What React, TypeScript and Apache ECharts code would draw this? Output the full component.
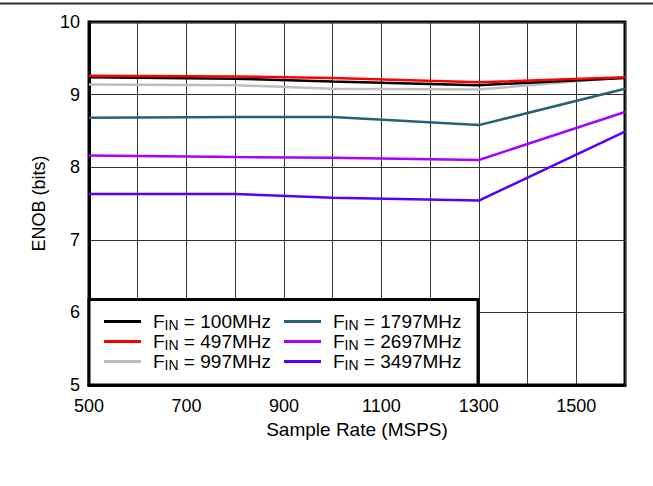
import React, { useEffect, useRef } from "react";
import * as echarts from "echarts";

const sampleRates = [500, 800, 1000, 1300, 1600];
const fin100 = [9.24, 9.22, 9.18, 9.13, 9.23];
const fin497 = [9.26, 9.25, 9.23, 9.17, 9.24];
const fin997 = [9.14, 9.13, 9.08, 9.07, 9.24];
const fin1797 = [8.68, 8.69, 8.69, 8.58, 9.08];
const fin2697 = [8.16, 8.14, 8.13, 8.1, 8.76];
const fin3497 = [7.63, 7.63, 7.58, 7.54, 8.49];

const seriesNames = ["100MHz", "497MHz", "997MHz", "1797MHz", "2697MHz", "3497MHz"];
const seriesColors = ["#000000", "#ff0000", "#bdbdbd", "#2b5f78", "#aa00ff", "#5500ff"];
const seriesValues = [fin100, fin497, fin997, fin1797, fin2697, fin3497];
const drawOrder = [2, 0, 1, 3, 4, 5];

const xTickLabels = [500, 700, 900, 1100, 1300, 1500];

const FONT = "Liberation Sans, Arial, Helvetica, sans-serif";

export default function App() {
  const ref = useRef<HTMLDivElement>(null);
  useEffect(() => {
    if (!ref.current) return;
    const chart = echarts.init(ref.current, undefined, { renderer: "svg" });
    const legendText = {
      fontFamily: FONT,
      color: "#000",
      rich: {
        g: { width: 7, fontFamily: FONT, fontSize: 19, lineHeight: 20 },
        a: { fontFamily: FONT, fontSize: 19, lineHeight: 20, color: "#000" },
        s: { fontFamily: FONT, fontSize: 14, lineHeight: 10, verticalAlign: "bottom", color: "#000" },
      },
    };
    const fmt = (name: string) => `{g|}{a|F}{s|IN}{a| = ${name}}`;
    chart.setOption({
      animation: false,
      grid: {
        left: 89,
        right: 28,
        top: 22,
        bottom: 101,
        show: true,
        borderColor: "#000",
        borderWidth: 3,
        backgroundColor: "transparent",
      },
      xAxis: {
        type: "value",
        min: 500,
        max: 1600,
        interval: 100,
        name: "Sample Rate (MSPS)",
        nameLocation: "middle",
        nameGap: 35,
        nameTextStyle: { fontFamily: FONT, fontSize: 19, color: "#000" },
        axisLine: { show: true, lineStyle: { color: "#000", width: 3 } },
        axisTick: { show: false },
        axisLabel: {
          margin: 12,
          fontFamily: FONT,
          fontSize: 18,
          color: "#000",
          formatter: (v: number) => (xTickLabels.indexOf(v) >= 0 ? String(v) : ""),
        },
        splitLine: { show: true, lineStyle: { color: "#333333", width: 1 } },
      },
      yAxis: {
        type: "value",
        min: 5,
        max: 10,
        interval: 1,
        name: "ENOB (bits)",
        nameLocation: "middle",
        nameGap: 41,
        nameTextStyle: { fontFamily: FONT, fontSize: 18, color: "#000" },
        axisLine: { show: true, lineStyle: { color: "#000", width: 3 } },
        axisTick: { show: false },
        axisLabel: { margin: 9, fontFamily: FONT, fontSize: 18, color: "#000" },
        splitLine: { show: true, lineStyle: { color: "#333333", width: 1 } },
      },
      legend: [
        {
          orient: "vertical",
          left: 104,
          top: 312,
          padding: 0,
          itemGap: 0.5,
          itemWidth: 37,
          itemHeight: 3,
          icon: "rect",
          z: 10,
          selectedMode: false,
          data: seriesNames.slice(0, 3),
          formatter: fmt,
          textStyle: legendText,
        },
        {
          orient: "vertical",
          left: 284,
          top: 312,
          padding: 0,
          itemGap: 0.5,
          itemWidth: 37,
          itemHeight: 3,
          icon: "rect",
          z: 10,
          selectedMode: false,
          data: seriesNames.slice(3, 6),
          formatter: fmt,
          textStyle: legendText,
        },
      ],
      graphic: [
        {
          type: "line",
          shape: { x1: 0, y1: 3.5, x2: 653, y2: 3.5 },
          style: { stroke: "#333", lineWidth: 2 },
        },
        {
          type: "rect",
          z: 5,
          shape: { x: 89, y: 299.5, width: 389, height: 85.5 },
          style: { fill: "#ffffff", stroke: "#000", lineWidth: 3 },
        },
      ],
      series: drawOrder.map((i) => ({
        name: seriesNames[i],
        type: "line",
        color: seriesColors[i],
        symbol: "none",
        lineStyle: { width: 2.5, color: seriesColors[i] },
        data: sampleRates.map((x, k) => [x, seriesValues[i][k]]),
      })),
    });
    return () => chart.dispose();
  }, []);
  return (
    <div
      ref={ref}
      style={{ position: "absolute", left: 0, top: 0, width: 653, height: 486, background: "#fff" }}
    />
  );
}
